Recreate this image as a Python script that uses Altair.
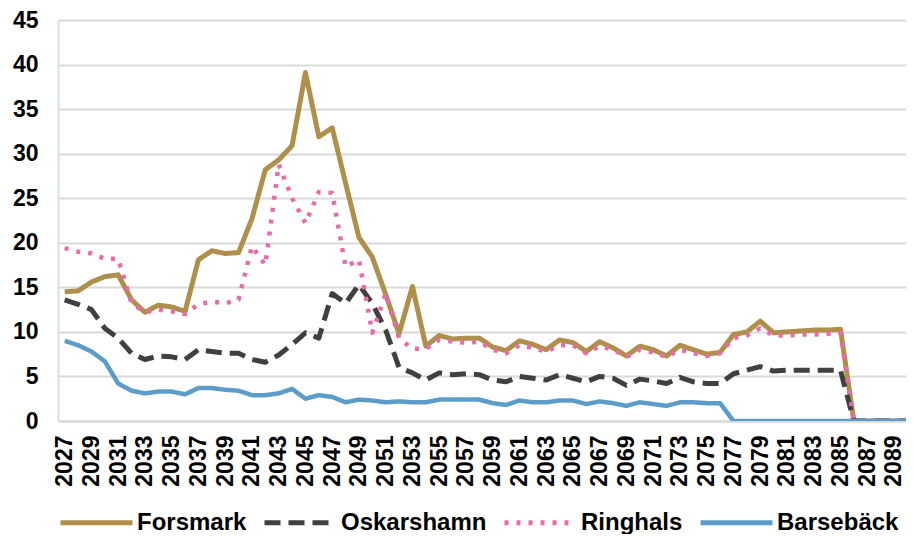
import altair as alt
import pandas as pd

years = list(range(2027, 2091))
series_names = ["Forsmark", "Oskarshamn", "Ringhals", "Barsebäck"]

forsmark = [14.5, 14.6, 15.6, 16.2, 16.4, 13.6, 12.2, 13.0, 12.8, 12.3,
            18.1, 19.1, 18.8, 18.9, 22.7, 28.2, 29.3, 30.9, 39.1, 31.9,
            32.9, 26.7, 20.6, 18.4, 14.2, 9.8, 15.1, 8.4, 9.6, 9.2,
            9.3, 9.3, 8.3, 7.9, 9.0, 8.6, 8.0, 9.1, 8.8, 7.8,
            8.9, 8.2, 7.3, 8.4, 8.0, 7.3, 8.5, 8.0, 7.5, 7.7,
            9.7, 10.0, 11.2, 9.9, 10.0, 10.1, 10.2, 10.2, 10.3, 0,
            0, 0, 0, 0]
oskarshamn = [13.6, 13.1, 12.5, 10.4, 9.3, 7.6, 6.9, 7.3, 7.2, 6.9,
              8.0, 7.8, 7.6, 7.6, 6.9, 6.6, 7.4, 8.6, 9.9, 9.3,
              14.3, 13.2, 15.3, 13.2, 10.2, 6.0, 5.4, 4.6, 5.4, 5.2,
              5.3, 5.2, 4.6, 4.4, 5.0, 4.8, 4.6, 5.2, 4.8, 4.4,
              5.0, 4.8, 4.0, 4.7, 4.5, 4.2, 4.9, 4.4, 4.2, 4.2,
              5.3, 5.7, 6.1, 5.6, 5.7, 5.7, 5.7, 5.7, 5.7, 0,
              0, 0, 0, 0]
ringhals = [19.4, 19.0, 18.8, 18.2, 18.2, 13.2, 12.2, 12.5, 12.3, 12.0,
            13.1, 13.4, 13.2, 13.6, 19.6, 17.5, 28.8, 25.0, 22.2, 25.7,
            25.6, 17.3, 18.1, 9.9, 14.3, 9.3, 8.1, 8.1, 9.1, 8.9,
            8.8, 8.9, 8.0, 7.6, 8.5, 8.2, 7.8, 8.5, 8.5, 7.6,
            8.4, 8.0, 7.2, 8.0, 7.7, 7.2, 8.0, 7.6, 7.3, 7.6,
            9.3, 9.6, 10.4, 9.6, 9.6, 9.7, 9.7, 9.8, 9.9, 0,
            0, 0, 0, 0]
barseback = [9.0, 8.5, 7.8, 6.7, 4.2, 3.4, 3.1, 3.3, 3.3, 3.0,
             3.7, 3.7, 3.5, 3.4, 2.9, 2.9, 3.1, 3.6, 2.5, 2.9,
             2.7, 2.1, 2.4, 2.3, 2.1, 2.2, 2.1, 2.1, 2.4, 2.4,
             2.4, 2.4, 2.0, 1.8, 2.3, 2.1, 2.1, 2.3, 2.3, 1.9,
             2.2, 2.0, 1.7, 2.1, 1.9, 1.7, 2.1, 2.1, 2.0, 2.0,
             0, 0, 0, 0, 0, 0, 0, 0, 0, 0,
             0, 0, 0, 0]

y_ticks = [0, 5, 10, 15, 20, 25, 30, 35, 40, 45]
x_ticks = list(range(2027, 2090, 2))

series_values = [forsmark, oskarshamn, ringhals, barseback]
rows = []
for name, vals in zip(series_names, series_values):
    for yr, v in zip(years, vals):
        rows.append({"Year": yr, "Value": v, "Verk": name})
df = pd.DataFrame(rows)

colors = ["#AF8F4A", "#404040", "#EA6BAA", "#5B9CC9"]
dashes = [[1, 0], [16, 8], [4, 8], [1, 0]]
widths = [5, 5, 4.5, 4.5]

FONT = "Liberation Sans"

x_enc = alt.X(
    "Year:Q",
    scale=alt.Scale(domain=[2026.5, 2089.9], nice=False, zero=False),
    axis=alt.Axis(
        values=x_ticks, format="d", labelAngle=-90, title=None, grid=False,
        ticks=False, tickSize=0, labelPadding=14, labelFontSize=23,
        labelFontWeight="bold", labelFont=FONT, labelColor="#000000",
        domainColor="#D9D9D9", domainWidth=2, labelOverlap=False,
        labelBound=False, labelFlush=False,
    ),
)
y_enc = alt.Y(
    "Value:Q",
    scale=alt.Scale(domain=[0, 45], nice=False),
    axis=alt.Axis(
        values=y_ticks, title=None, grid=True, gridColor="#D9D9D9",
        gridWidth=2, ticks=False, tickSize=0, labelPadding=20,
        labelFontSize=23, labelFontWeight="bold", labelFont=FONT,
        labelColor="#000000", domainColor="#D5DFEA", domainWidth=2,
        labelOverlap=False,
    ),
)
legend_opts = dict(
    title=None, orient="none", legendX=0, legendY=464,
    direction="horizontal", symbolType="stroke", symbolSize=5184,
    symbolStrokeWidth=5, labelFontSize=24, labelFontWeight="bold",
    labelFont=FONT, labelColor="#000000", columnPadding=7,
    labelOffset=2, columns=4,
)
color_enc = alt.Color(
    "Verk:N",
    scale=alt.Scale(domain=series_names, range=colors),
    sort=series_names,
    legend=alt.Legend(**legend_opts),
)
dash_enc = alt.StrokeDash(
    "Verk:N",
    scale=alt.Scale(domain=series_names, range=dashes),
    sort=series_names,
    legend=alt.Legend(**legend_opts),
)

layers = []
for name, w in zip(series_names, widths):
    layers.append(
        alt.Chart(df)
        .transform_filter(alt.datum.Verk == name)
        .mark_line(strokeWidth=w, strokeJoin="round", clip=True)
        .encode(x=x_enc, y=y_enc, color=color_enc, strokeDash=dash_enc)
    )

chart = (
    alt.layer(*layers)
    .properties(
        width=848, height=401,
        autosize=alt.AutoSizeParams(type="none"),
        padding={"left": 50, "top": 12, "right": 0, "bottom": 113},
    )
    .configure_view(stroke="#EDF1F7", strokeWidth=1.5)
    .configure(background="white")
)

chart.save("out.html", embed_options={"renderer": "svg", "actions": False})
